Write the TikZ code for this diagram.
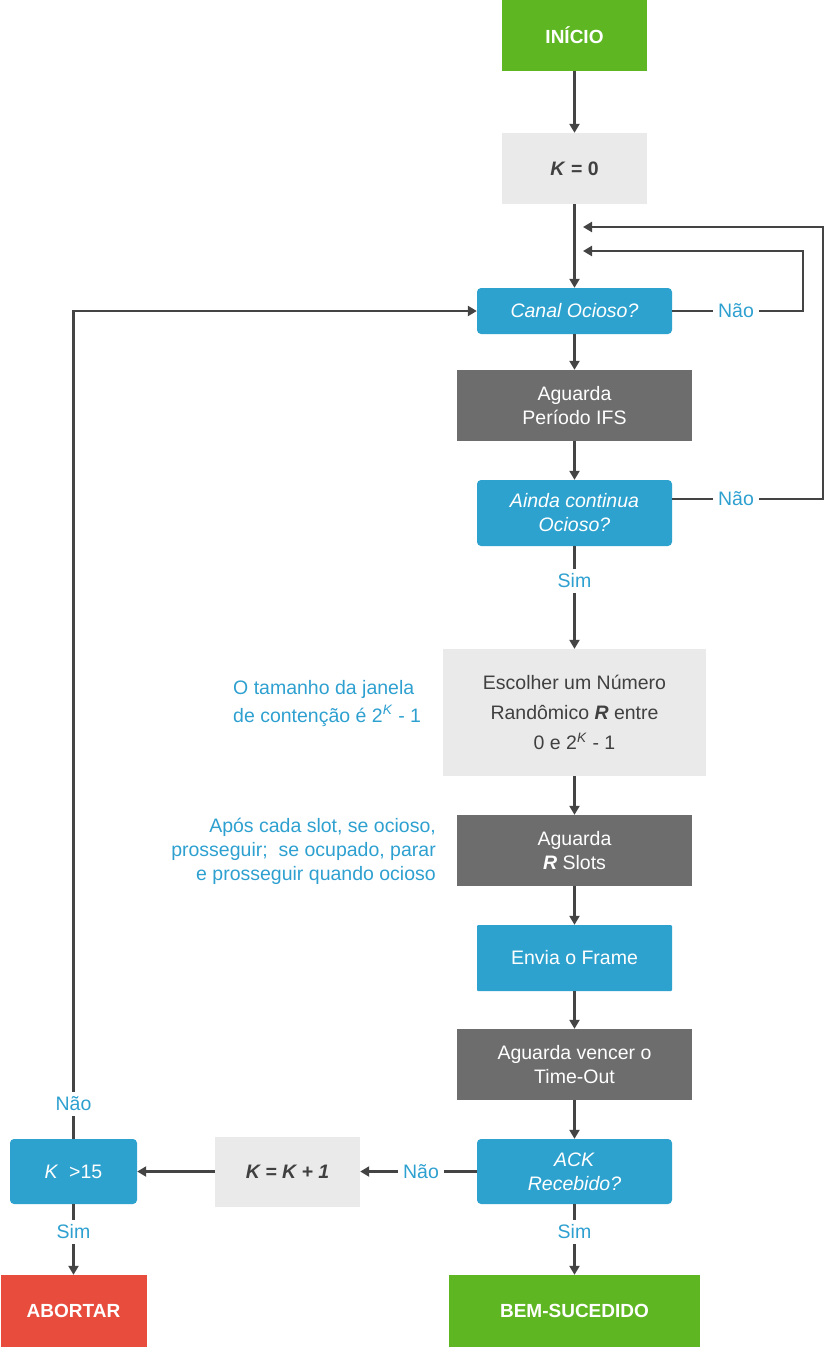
\documentclass[tikz,border=0pt]{standalone}
\usepackage{fontspec}
\setmainfont{Liberation Sans}
\usetikzlibrary{arrows.meta,positioning}
\definecolor{cgreen}{RGB}{94,183,34}
\definecolor{cblue}{RGB}{46,162,206}
\definecolor{cdark}{RGB}{109,109,109}
\definecolor{clight}{RGB}{234,234,234}
\definecolor{cred}{RGB}{232,76,61}
\definecolor{ctext}{RGB}{64,64,64}
\definecolor{cline}{RGB}{68,68,68}
\definecolor{clabel}{RGB}{46,160,208}
\tikzset{
  base/.style={draw=none, inner sep=0pt, align=center, font=\fontsize{19.5}{24}\selectfont},
  startbox/.style={base, fill=cgreen, text=white, font=\fontsize{19}{24}\selectfont\bfseries},
  abortbox/.style={base, fill=cred, text=white, font=\fontsize{19}{24}\selectfont\bfseries},
  lightbox/.style={base, fill=clight, text=ctext},
  darkbox/.style={base, fill=cdark, text=white},
  decbox/.style={base, fill=cblue, text=white, rounded corners=4pt},
  lbl/.style={inner sep=5pt, text=clabel, font=\fontsize{19.5}{24}\selectfont},
  note/.style={inner sep=0pt, text=clabel, font=\fontsize{19.5}{24}\selectfont},
  conn/.style={draw=cline, line width=2.2pt},
  arr/.style={conn, -{Triangle[length=9pt,width=10pt]}},
}
\begin{document}
\begin{tikzpicture}[x=1pt,y=-1pt]
\useasboundingbox (0,0) rectangle (825,1347);
\node[startbox, minimum width=145pt, minimum height=71pt] (inicio) at (574.5,35.5) {INÍCIO};
\node[lightbox, minimum width=145pt, minimum height=71pt, font=\fontsize{19.5}{24}\selectfont\bfseries] (k0) at (574.5,168.5) {\textit{K} = 0};
\node[decbox, minimum width=195pt, minimum height=46pt] (canal) at (574.5,311) {\textit{Canal Ocioso?}};
\node[darkbox, minimum width=235pt, minimum height=71pt] (ifs) at (574.5,405.5) {Aguarda\\Período IFS};
\node[decbox, minimum width=195pt, minimum height=66pt] (ainda) at (574.5,513) {\textit{Ainda continua}\\\textit{Ocioso?}};
\node[lbl] (sim1) at (574.5,581) {Sim};
\node[lightbox, minimum width=263pt, minimum height=127pt, font=\fontsize{19.5}{30}\selectfont] (escolher) at (574.5,712.5) {Escolher um Número\\Randômico \textbf{\textit{R}} entre\\0 e 2\textsuperscript{\textit{K}} - 1};
\node[darkbox, minimum width=235pt, minimum height=71pt] (slots) at (574.5,850.5) {Aguarda\\\textbf{\textit{R}} Slots};
\node[decbox, rounded corners=1pt, minimum width=195pt, minimum height=66pt] (envia) at (574.5,958) {Envia o Frame};
\node[darkbox, minimum width=235pt, minimum height=71pt] (timeout) at (574.5,1064.5) {Aguarda vencer o\\Time-Out};
\node[decbox, minimum width=195pt, minimum height=65pt] (ack) at (574.5,1171.5) {\textit{ACK}\\\textit{Recebido?}};
\node[lbl] (sim2) at (574.5,1232) {Sim};
\node[startbox, minimum width=251pt, minimum height=72pt] (bem) at (574.5,1311) {BEM-SUCEDIDO};
\node[lightbox, minimum width=145pt, minimum height=70pt, font=\fontsize{19.5}{24}\selectfont\bfseries\itshape] (kk1) at (287.5,1171.5) {K = K + 1};
\node[decbox, minimum width=127pt, minimum height=65pt] (k15) at (73.5,1171.5) {\textit{K}\ \ >15};
\node[abortbox, minimum width=146pt, minimum height=72pt] (abort) at (73.5,1311) {ABORTAR};
\node[lbl] (nao4) at (73.5,1104) {Não};
\node[lbl] (sim3) at (73.5,1232) {Sim};
\node[lbl] (nao3) at (421,1171.5) {Não};
\node[lbl] (nao1) at (736,311) {Não};
\node[lbl] (nao2) at (736,499) {Não};
\node[note, align=left, anchor=west, font=\fontsize{19.5}{28}\selectfont] (n1) at (233,703) {O tamanho da janela\\de contenção é 2\textsuperscript{\textit{K}} - 1};
\node[note, align=right, anchor=east] (n2) at (436,851) {Após cada slot, se ocioso,\\prosseguir;\ \ se ocupado, parar\\e prosseguir quando ocioso};
\coordinate (r1) at (803,311);
\coordinate (t1) at (583,251);
\coordinate (r2) at (823,499);
\coordinate (t2) at (583,227);
\draw[arr] (inicio) -- (k0);
\draw[arr] (k0) -- (canal);
\draw[arr] (canal) -- (ifs);
\draw[arr] (ifs) -- (ainda);
\draw[conn] (ainda) -- (sim1);
\draw[arr] (sim1) -- (escolher);
\draw[arr] (escolher) -- (slots);
\draw[arr] (slots) -- (envia);
\draw[arr] (envia) -- (timeout);
\draw[arr] (timeout) -- (ack);
\draw[conn] (ack) -- (sim2);
\draw[arr] (sim2) -- (bem);
\draw[conn] (ack) -- (nao3);
\draw[arr] (nao3) -- (kk1);
\draw[arr] (kk1) -- (k15);
\draw[conn] (k15) -- (sim3);
\draw[arr] (sim3) -- (abort);
\draw[conn] (k15) -- (nao4);
\draw[arr] (nao4) |- (canal.west);
\draw[conn] (canal) -- (nao1);
\draw[arr] (nao1) -- (r1) |- (t1);
\draw[conn] (ainda.east |- nao2) -- (nao2);
\draw[arr] (nao2) -- (r2) |- (t2);
\end{tikzpicture}
\end{document}
